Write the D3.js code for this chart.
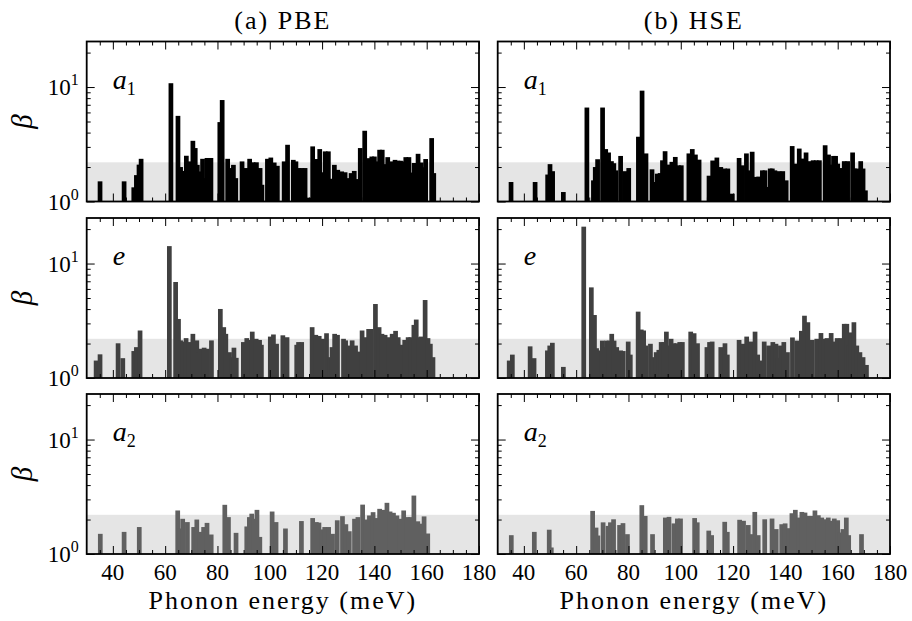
<!DOCTYPE html>
<html>
<head>
<meta charset="utf-8">
<script src="https://cdn.jsdelivr.net/npm/d3@7"></script>
<style>
  body { margin: 0; background: #fff; }
  text { font-family: "Liberation Serif", "Times New Roman", serif; fill: #000; }
</style>
</head>
<body>
<div id="chart"></div>
<script>
// beta for each phonon mode, [energy (meV), beta]
var pbeA1 = [[35.1,1.5],[44.3,1.5],[48.0,1.33],[49.0,1.7],[50.0,2.1],[50.8,2.36],
  [62.2,10.8],[64.9,5.6],[65.9,2.0],[66.6,1.85],[68.1,2.51],[69.2,2.24],[70.6,3.39],[71.5,2.93],[72.3,2.09],[72.9,1.83],[74.3,2.36],[75.2,1.6],[76.0,2.4],[77.5,2.4],
  [80.9,4.94],[81.8,7.7],[83.9,2.36],[84.8,1.96],[86.1,2.09],[87.0,1.6],[89.4,2.24],[91.0,1.96],[92.3,2.36],[93.6,2.2],[94.9,2.2],[96.3,1.96],[97.0,1.4],
  [99.1,2.36],[100.4,2.42],[101.7,2.19],[102.9,2.05],[105.5,2.24],[106.8,3.13],[109.0,2.31],[110.0,2.24],[111.0,1.96],[112.3,1.96],[113.5,1.96],[114.9,1.08],
  [116.4,3.03],[117.7,2.35],[119.1,2.87],[120.0,1.8],[121.2,2.74],[122.4,2.74],[123.4,1.58],[124.7,2.09],[126.0,1.89],[127.5,1.83],[128.8,1.8],[130.0,1.6],
  [131.1,1.77],[132.3,1.85],[133.6,1.57],[134.6,2.93],[136.3,4.15],[137.7,2.39],[139.0,2.47],[140.0,2.47],[140.8,2.24],[142.0,2.83],[143.0,2.83],[143.8,2.12],
  [145.1,2.44],[146.5,2.24],[147.9,2.31],[149.0,2.27],[150.0,2.27],[150.8,2.24],[152.0,2.44],[153.2,2.44],[154.0,1.79],[155.2,2.17],[156.7,2.61],[157.9,2.19],
  [158.6,1.99],[159.6,2.35],[161.9,3.58],[162.7,1.77]];

var hseA1 = [[35.1,1.48],[44.3,1.48],[49.1,1.72],[50.0,2.12],[51.0,1.84],[55.1,1.21],
  [64.1,6.62],[66.6,1.53],[67.3,2.0],[68.2,2.34],[70.1,6.62],[71.3,2.87],[72.4,2.68],[73.5,2.25],[74.4,2.16],[75.2,1.87],[77.0,2.5],[78.6,1.84],[80.1,1.96],
  [83.8,3.68],[85.2,9.3],[86.7,2.63],[89.0,1.91],[89.8,1.48],[91.0,1.75],[92.1,1.77],[93.0,2.29],[94.0,2.75],[95.3,2.1],[96.6,2.22],[97.9,2.45],[99.1,2.07],[100.2,2.07],
  [103.1,2.63],[104.4,2.87],[105.6,2.57],[107.0,2.32],[110.8,1.68],[112.2,2.28],[113.2,1.68],[113.8,2.42],[115.3,2.0],[116.8,1.94],[118.0,1.94],[119.7,1.17],
  [122.3,2.4],[123.6,2.07],[125.1,2.63],[125.9,1.87],[127.3,2.72],[128.5,1.64],[129.8,1.65],[131.2,1.87],[132.2,1.87],[133.0,1.34],[134.2,1.94],[135.0,1.94],
  [136.0,1.87],[137.6,1.84],[139.0,1.84],[140.3,1.53],[142.6,3.05],[144.0,2.14],[145.3,2.9],[146.5,2.37],[147.9,2.68],[149.2,2.25],[150.6,2.29],[151.8,2.29],
  [153.0,2.29],[155.2,3.1],[156.5,2.57],[157.2,2.1],[158.4,2.5],[159.2,2.5],[160.0,2.14],[161.3,1.96],[162.5,2.25],[163.8,2.25],[165.7,2.68],[166.4,1.94],
  [167.5,1.94],[168.8,2.25],[169.7,1.94],[170.6,1.25]];

var pbeE = [[33.6,1.42],[35.1,1.61],[42.0,2.01],[43.8,1.49],[48.0,1.72],[49.0,1.86],[50.4,2.6],
  [61.6,14.2],[64.0,6.9],[65.1,3.28],[65.9,2.13],[66.8,2.08],[68.0,2.23],[69.1,2.06],[70.6,2.43],[72.1,2.13],[72.8,1.68],[73.5,1.8],[74.9,1.84],[76.2,1.8],[77.7,2.13],
  [81.1,4.01],[82.4,2.78],[83.2,2.43],[84.6,1.68],[85.5,1.52],[86.3,1.84],[87.2,1.5],
  [89.9,2.06],[91.2,2.23],[92.2,2.15],[93.3,2.54],[94.8,2.2],[96.1,2.15],[96.8,1.95],
  [100.2,2.3],[101.4,2.4],[102.6,1.99],[105.0,2.36],[106.6,2.27],[110.3,1.95],[111.0,2.06],[112.2,2.06],
  [116.2,2.78],[117.6,2.38],[118.9,2.33],[120.2,2.2],[121.7,2.46],[123.0,1.52],[123.8,1.86],[124.8,2.43],[125.9,2.38],[128.2,2.2],[129.0,2.13],[130.2,1.92],
  [131.5,2.13],[132.8,1.92],[133.9,1.7],[135.3,2.6],[136.5,2.27],[137.8,2.68],[138.8,2.68],[140.4,4.43],[141.8,2.78],[142.9,2.43],[144.1,2.38],[145.5,2.27],
  [146.8,2.43],[148.1,2.58],[149.1,2.27],[150.3,1.95],[151.6,2.15],[152.9,2.27],[153.9,2.27],[155.1,2.91],[156.0,3.24],[156.9,2.27],[157.9,2.3],[159.4,4.8],
  [160.5,2.23],[161.4,1.99],[162.4,1.52]];

var hseE = [[34.4,1.42],[35.6,1.6],[42.4,1.89],[43.9,1.49],[49.0,1.74],[49.9,1.92],[50.9,2.03],[55.1,1.25],
  [62.9,21.0],[65.8,6.19],[67.0,3.55],[67.8,1.82],[68.6,1.74],[70.0,2.12],[70.9,1.86],[71.6,2.12],[72.6,2.12],[73.6,2.43],[74.5,2.12],[75.5,1.86],[77.0,1.74],
  [78.0,1.72],[79.9,2.08],[80.7,1.6],
  [83.7,3.8],[84.9,2.65],[85.8,2.6],[86.6,1.92],[88.4,1.99],[89.3,1.52],[90.6,1.68],[91.6,1.76],[92.5,2.06],[93.5,2.06],[94.5,2.54],[95.3,1.92],[96.3,2.2],
  [97.3,2.01],[98.4,2.01],[99.6,2.06],[100.6,2.06],
  [103.8,2.54],[105.1,2.46],[106.4,2.01],[110.0,1.86],[111.0,2.06],[112.0,2.08],[115.3,1.86],[116.9,2.01],[117.8,1.6],
  [122.3,2.15],[123.7,1.99],[125.2,2.3],[126.8,2.08],[128.4,2.54],[129.4,1.6],[130.4,1.42],[131.9,2.08],[133.6,1.92],[135.2,2.06],[136.4,1.99],[137.2,1.5],
  [138.1,1.92],[139.4,2.06],[140.8,1.68],[142.7,2.26],[144.4,2.12],[146.1,2.58],[147.3,3.5],[148.6,3.07],[150.3,2.15],[152.0,2.2],[153.6,2.47],[154.7,2.2],
  [155.9,2.23],[157.5,2.47],[158.7,2.08],[159.8,2.23],[161.2,2.23],[162.5,2.97],[163.5,2.97],[164.3,1.92],[165.0,2.5],[166.2,3.07],[167.3,1.92],[168.5,1.68],
  [169.7,1.52],[171.0,1.3]];

var pbeA2 = [[35.2,1.5],[44.3,1.56],[50.1,1.72],
  [64.8,2.4],[65.7,1.67],[66.7,2.03],[68.5,1.9],[70.9,1.72],[72.1,2.0],[73.2,1.56],[74.7,1.72],[76.0,1.87],[77.6,1.48],
  [82.8,2.69],[84.2,2.1],[87.1,1.53],[91.2,1.74],[92.2,2.1],[93.1,2.25],[93.9,2.03],[95.1,2.43],[96.2,1.41],
  [100.9,2.35],[102.4,1.9],[106.0,1.67],[112.1,1.94],[116.4,2.06],[117.8,1.9],[118.8,1.88],[119.9,1.64],[121.0,1.72],[122.5,1.72],[124.0,1.5],[125.8,1.97],
  [127.8,2.14],[129.1,1.82],[130.4,1.58],[132.4,2.03],[133.7,2.1],[135.5,2.7],[136.9,2.0],[138.1,2.17],[139.5,2.32],[140.6,2.06],[142.0,2.48],[143.5,2.43],
  [144.8,2.8],[146.0,2.35],[147.3,2.29],[148.6,2.17],[149.8,2.03],[151.2,2.4],[152.6,2.1],[153.9,2.1],[155.1,3.24],[156.6,1.93],[157.8,1.84],[159.0,2.13],
  [160.4,1.51]];

var hseA2 = [[35.2,1.46],[44.0,1.56],[49.7,1.63],[50.5,1.14],
  [66.3,2.38],[67.6,1.7],[68.3,1.45],[70.3,1.89],[72.2,1.76],[73.1,1.89],[74.3,2.01],[76.6,1.79],[77.9,1.86],[79.6,1.49],
  [85.1,2.67],[86.4,2.15],[89.2,1.49],[94.1,2.08],[95.5,2.11],[97.4,1.85],[98.7,2.04],[99.9,2.04],
  [105.3,2.06],[106.3,1.89],[110.7,1.6],[111.8,1.46],[116.8,1.91],[117.8,1.56],
  [122.5,1.99],[124.0,1.95],[125.8,1.79],[126.7,1.49],[128.3,2.33],[129.6,1.46],[132.1,2.01],[134.9,2.04],[136.5,1.65],[138.6,1.82],[139.9,1.85],[141.2,1.68],
  [142.5,2.27],[143.8,2.43],[145.0,2.08],[146.3,2.33],[147.5,2.3],[148.8,2.15],[150.1,2.15],[151.3,2.4],[152.6,2.18],[153.9,2.08],[155.1,2.01],[156.4,2.08],
  [157.6,1.95],[158.7,2.04],[160.0,1.97],[160.9,1.54],[162.0,1.65],[163.3,2.08],[164.2,1.46],[169.1,1.49]];

// labels and ticks
var columnTitles = ["(a) PBE", "(b) HSE"];
var modeNames = ["a", "e", "a"];
var modeSubs = ["1", "", "2"];
var xMajorTicks = [40, 60, 80, 100, 120, 140, 160, 180];
var xMinorTicks = d3.range(35, 180, 5).filter(d => d % 20 !== 0);
var yMajorTicks = [1, 10];
var yMinorTicks = [2, 3, 4, 5, 6, 7, 8, 9, 20];
var bandTop = 2.2;
var barWidth = 1.8;

// grid of panels: rows are modes, columns are functionals
var panelData = [[pbeA1, hseA1], [pbeE, hseE], [pbeA2, hseA2]];
var rowColors = ["#000000", "#404040", "#606060"];

// define svg area
var svgWidth = 912;
var svgHeight = 621;
var colLeft = [86.7, 497.7];
var rowTop = [41.5, 218, 394];
var width = 392.3;
var height = 160;

var svg = d3.select("#chart")
  .append("svg")
  .attr("width", svgWidth)
  .attr("height", svgHeight);

// shared scales
var xScale = d3.scaleLinear().domain([30, 180]).range([0, width]);
var yScale = d3.scaleLog().domain([1, 25]).range([height, 0]);

function addTicks(g, axis, values, size, transform) {
  var a = g.append("g")
    .attr("transform", transform)
    .call(axis.tickValues(values).tickSize(-size).tickFormat(""));
  a.select(".domain").remove();
  a.selectAll("line").attr("stroke", "#000").attr("stroke-width", 1);
}

panelData.forEach(function(row, r) {
  row.forEach(function(data, c) {
    var g = svg.append("g")
      .attr("transform", `translate(${colLeft[c]}, ${rowTop[r]})`);

    // grey band below beta = 2.2
    g.append("rect")
      .attr("x", 0)
      .attr("y", yScale(bandTop))
      .attr("width", width)
      .attr("height", height - yScale(bandTop))
      .attr("fill", "#e5e5e5");

    // bars for each mode
    g.selectAll(".bar")
      .data(data)
      .enter()
      .append("rect")
      .attr("class", "bar")
      .attr("x", d => xScale(d[0] - barWidth / 2))
      .attr("width", d => xScale(d[0] + barWidth / 2) - xScale(d[0] - barWidth / 2))
      .attr("y", d => yScale(d[1]))
      .attr("height", d => height - yScale(d[1]))
      .attr("fill", rowColors[r]);

    // inward ticks on all four sides
    addTicks(g, d3.axisBottom(xScale), xMajorTicks, 8, `translate(0, ${height})`);
    addTicks(g, d3.axisBottom(xScale), xMinorTicks, 4, `translate(0, ${height})`);
    addTicks(g, d3.axisTop(xScale), xMajorTicks, 8, "translate(0, 0)");
    addTicks(g, d3.axisTop(xScale), xMinorTicks, 4, "translate(0, 0)");
    addTicks(g, d3.axisLeft(yScale), yMajorTicks, 8, "translate(0, 0)");
    addTicks(g, d3.axisLeft(yScale), yMinorTicks, 4, "translate(0, 0)");
    addTicks(g, d3.axisRight(yScale), yMajorTicks, 8, `translate(${width}, 0)`);
    addTicks(g, d3.axisRight(yScale), yMinorTicks, 4, `translate(${width}, 0)`);

    // frame
    g.append("rect")
      .attr("width", width)
      .attr("height", height)
      .attr("fill", "none")
      .attr("stroke", "#000")
      .attr("stroke-width", 1.8);

    // mode label
    var lbl = g.append("text")
      .attr("x", 26)
      .attr("y", 47)
      .style("font-size", "28px");
    lbl.append("tspan").style("font-style", "italic").text(modeNames[r]);
    lbl.append("tspan").attr("dy", 6).style("font-size", "18px").text(modeSubs[r]);

    // y tick labels on the left column
    if (c === 0) {
      yMajorTicks.forEach(function(t, i) {
        var yl = g.append("text")
          .attr("x", -8)
          .attr("y", yScale(t) + 8)
          .attr("text-anchor", "end")
          .style("font-size", "23px");
        yl.append("tspan").text("10");
        yl.append("tspan").attr("dy", -10).style("font-size", "16px").text(String(i));
      });

      g.append("text")
        .attr("transform", `translate(-55, ${height / 2}) rotate(-90)`)
        .attr("text-anchor", "middle")
        .style("font-size", "29px")
        .style("font-style", "italic")
        .text("\u03b2");
    }

    // x tick labels on the bottom row
    if (r === panelData.length - 1) {
      g.selectAll(".xlabel")
        .data(xMajorTicks)
        .enter()
        .append("text")
        .attr("class", "xlabel")
        .attr("x", d => xScale(d))
        .attr("y", height + 26)
        .attr("text-anchor", "middle")
        .style("font-size", "23px")
        .text(d => d);

      g.append("text")
        .attr("x", width / 2)
        .attr("y", height + 55)
        .attr("text-anchor", "middle")
        .style("font-size", "26px")
        .style("letter-spacing", "2px")
        .text("Phonon energy (meV)");
    }

    // column title on the top row
    if (r === 0) {
      g.append("text")
        .attr("x", width / 2)
        .attr("y", -13)
        .attr("text-anchor", "middle")
        .style("font-size", "26px")
        .style("letter-spacing", "2px")
        .text(columnTitles[c]);
    }
  });
});
</script>
</body>
</html>
